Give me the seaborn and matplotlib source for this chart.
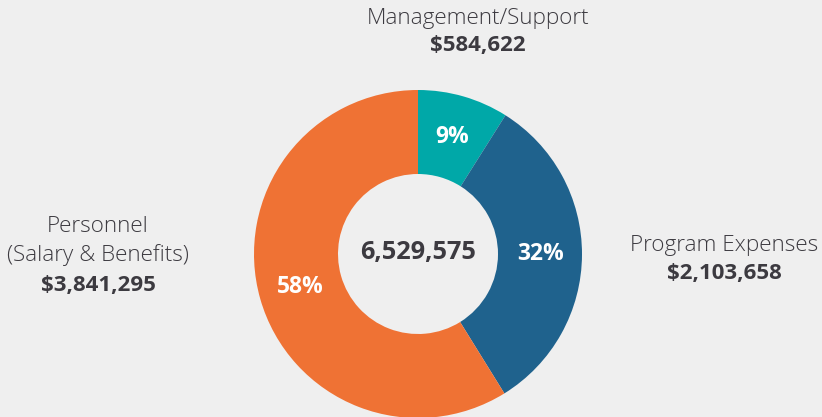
import matplotlib
matplotlib.use('Agg')
import matplotlib.pyplot as plt
import seaborn as sns

# Datos del grafico
categorias = ['Management/Support', 'Program Expenses', 'Personnel\n(Salary & Benefits)']
montos = [584622, 2103658, 3841295]
porcentajes = ['9%', '32%', '58%']
colores = ['#00a8a8', '#1f628d', '#ef7234']
total = sum(montos)

sns.set_theme(style='white')
plt.rcParams['font.family'] = ['Open Sans', 'DejaVu Sans']

fondo = '#efefef'
texto = '#3c3a40'

fig = plt.figure(figsize=(8.22, 4.17), dpi=100, facecolor=fondo)
ax = fig.add_axes([0, 0, 1, 1])
ax.set_facecolor(fondo)
ax.axis('off')

# Dona (en coordenadas de pixel)
cx, cy, r = 418, 163, 164
wedges, textos = ax.pie(
    montos, colors=colores, startangle=90, counterclock=False,
    center=(cx, cy), radius=r, labels=porcentajes, labeldistance=0.745,
    wedgeprops=dict(width=r - 80, linewidth=0),
    textprops=dict(color='white', fontsize=16.5, fontweight='bold',
                   ha='center', va='center'))
for t in textos:
    t.set_horizontalalignment('center')
ax.set_xlim(0, 822)
ax.set_ylim(0, 417)
ax.set_aspect('equal')

ax.text(cx, cy + 1, f'{total:,}', ha='center', va='center',
        fontsize=18.3, fontweight='bold', color=texto)

# Etiquetas externas
posiciones = [(478, 400, 372), (724, 172, 144), (98, 177, 132)]
for cat, monto, (x, y_nom, y_val) in zip(categorias, montos, posiciones):
    ax.text(x, y_nom - 1, cat, ha='center', va='center', fontsize=16.2,
            fontweight='light', color=texto, linespacing=1.42)
    ax.text(x, y_val, f'${monto:,}', ha='center', va='center', fontsize=16,
            fontweight='bold', color=texto)

fig.savefig('out.png', dpi=100, facecolor=fondo)
